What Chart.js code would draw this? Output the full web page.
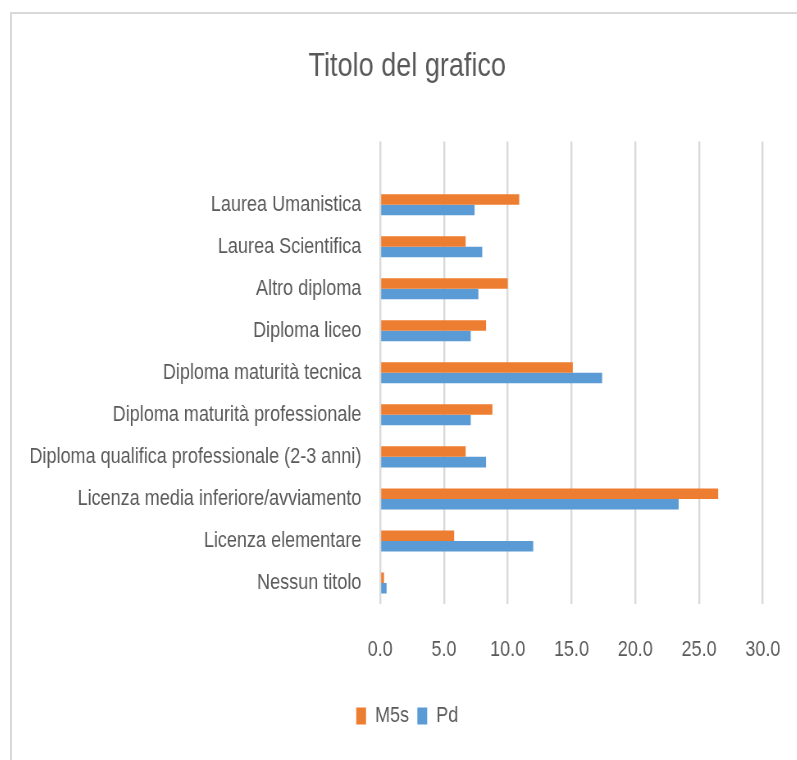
<!DOCTYPE html>
<html>
<head>
<meta charset="utf-8">
<script src="https://cdn.jsdelivr.net/npm/chart.js@4"></script>
<style>
    body { margin: 0; overflow: hidden; background: #fff; }
    #frame { position: absolute; left: 10px; top: 12px; width: 830px; height: 800px; border: 2px solid #d9d9d9; }
    /* the original text is a narrow face; squeeze the drawing horizontally */
    #wrap { position: absolute; left: 12px; top: 14px; transform: scaleX(0.82); transform-origin: 0 0; }
</style>
</head>
<body>
<div id="frame"></div>
<div id="wrap"><canvas id="chart" width="970" height="746"></canvas></div>
<script>
/* ================= DATA ================= */
const categories = [
    "",
    "Laurea Umanistica",
    "Laurea Scientifica",
    "Altro diploma",
    "Diploma liceo",
    "Diploma maturità tecnica",
    "Diploma maturità professionale",
    "Diploma qualifica professionale (2-3 anni)",
    "Licenza media inferiore/avviamento",
    "Licenza elementare",
    "Nessun titolo"
];
const m5sValues = [null, 10.9, 6.7, 10.0, 8.3, 15.1, 8.8, 6.7, 26.5, 5.8, 0.3];
const pdValues  = [null, 7.4, 8.0, 7.7, 7.1, 17.4, 7.1, 8.3, 23.4, 12.0, 0.5];
const xTickLabels = ["0.0", "5.0", "10.0", "15.0", "20.0", "25.0", "30.0"];

/* ================= STYLE ================= */
const FONT = "'Liberation Sans', Arial, sans-serif";
const TEXT = "#595959";
const GRID = "#d9d9d9";

/* long category labels run into the left padding: don't clip them to the axis box */
const noLabelClip = {
    id: "noLabelClip",
    afterLayout(chart) {
        chart.scales.y._computeLabelArea = () => undefined;
    }
};

/* ================= CHART ================= */
new Chart(document.getElementById("chart"), {
    type: "bar",
    data: {
        labels: categories,
        datasets: [
            {
                label: "M5s",
                data: m5sValues,
                backgroundColor: "#ED7D31",
                borderWidth: 0,
                categoryPercentage: 0.5,
                barPercentage: 1.0
            },
            {
                label: "Pd",
                data: pdValues,
                backgroundColor: "#5B9BD5",
                borderWidth: 0,
                categoryPercentage: 0.5,
                barPercentage: 1.0
            }
        ]
    },
    plugins: [noLabelClip],
    options: {
        indexAxis: "y",
        responsive: false,
        animation: false,
        layout: { padding: { left: 48, right: 54, top: 0, bottom: 23 } },
        plugins: {
            title: {
                display: true,
                text: "Titolo del grafico",
                color: TEXT,
                font: { family: FONT, size: 33, weight: "normal" },
                padding: { top: 33, bottom: 55 }
            },
            legend: {
                position: "bottom",
                labels: {
                    color: TEXT,
                    font: { family: FONT, size: 22 },
                    boxWidth: 12,
                    boxHeight: 17,
                    padding: 10
                }
            },
            tooltip: { enabled: false }
        },
        scales: {
            x: {
                min: 0,
                max: 30,
                border: { display: false },
                grid: { color: GRID, lineWidth: 2.4, drawTicks: false },
                ticks: {
                    stepSize: 5,
                    color: TEXT,
                    padding: 33,
                    maxRotation: 0,
                    font: { family: FONT, size: 22 },
                    callback: (v, i) => xTickLabels[i]
                },
                afterFit: s => { s.height = 91; }
            },
            y: {
                border: { display: false },
                grid: { display: false, drawTicks: false },
                ticks: {
                    color: TEXT,
                    padding: 23,
                    autoSkip: false,
                    font: { family: FONT, size: 22 }
                },
                afterFit: s => { s.width = 401; }
            }
        }
    }
});
</script>
</body>
</html>
